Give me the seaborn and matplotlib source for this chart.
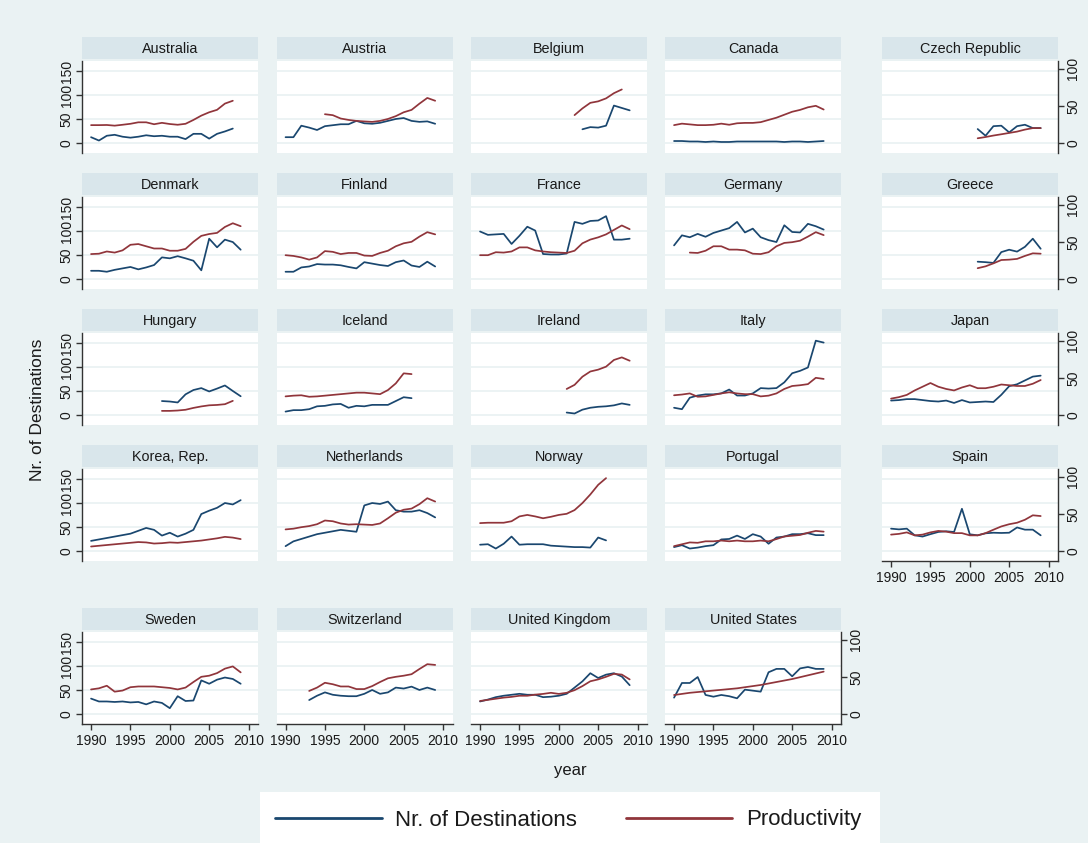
import numpy as np
import pandas as pd
import matplotlib
matplotlib.use("Agg")
import matplotlib.pyplot as plt
from matplotlib.patches import Rectangle
from matplotlib.lines import Line2D
import seaborn as sns

sns.set_style("white")
plt.rcParams["font.family"] = ["Liberation Sans", "DejaVu Sans"]

N = None
years = list(range(1990, 2010))

# Number of export destinations (left axis) and productivity (right axis), 1990-2009
australia_dest = [12, 5, 15, 17, 13, 11, 13, 16, 14, 15, 13, 13, 8, 19, 19, 9, 19, 24, 30, N]
australia_prod = [24, 24, 24.2, 23.3, 24.5, 25.8, 27.8, 27.8, 25.2, 27.1, 25.5, 24.5, 25.8, 31, 36.8, 41.3, 44.6, 53, 56.8, N]
austria_dest = [12, 12, 36, 32, 27, 35, 37, 39, 39, 46, 41, 40, 42, 46, 50, 52, 46, 44, 45, 40]
austria_prod = [N, N, N, N, N, 38.7, 37.4, 32.9, 31, 29.7, 29, 28.4, 29.7, 32.3, 36.1, 41.3, 44.5, 52.9, 60.6, 56.8]
belgium_dest = [N] * 13 + [28.5, 33, 32, 36, 78, 73, 68]
belgium_prod = [N] * 12 + [37.5, 46.5, 54, 56, 60, 67, 72, N]
canada_dest = [4, 4, 3, 3, 2, 3, 2, 2, 3, 3, 3, 3, 3, 3, 2, 3, 3, 2, 3, 4]
canada_prod = [24, 26, 25, 24, 24, 24.5, 26, 24.5, 26.5, 27, 27, 28, 31, 34, 38, 42, 44.5, 48, 50, 45]
czech_dest = [N] * 11 + [29, 15, 35, 36, 22, 35, 38, 31, 31]
czech_prod = [N] * 11 + [6.3, 8, 10, 11.7, 13.5, 15.3, 18, 20, 20]
denmark_dest = [17, 17, 15, 19, 22, 25, 20, 24, 29, 45, 43, 47.5, 43, 38, 18, 84, 66, 82, 77, 61]
denmark_prod = [33.5, 34, 37, 35.5, 38.5, 46, 47, 44, 41, 41, 38, 38, 40.5, 50, 58, 60.5, 62, 70, 75, 71]
finland_dest = [15, 15, 24, 26, 31, 30, 30, 28.5, 25, 22, 35, 32, 29, 27, 35, 38.5, 28, 25, 36, 26]
finland_prod = [32, 31, 29, 26, 29, 37.5, 36.5, 33.5, 35, 35, 31.5, 31, 35, 38, 44, 48, 50, 57, 63, 60]
france_dest = [99, 92, 93, 94, 73, 90, 109, 101, 52, 51, 51, 53, 119, 115, 121, 122, 131, 82, 82, 84]
france_prod = [32, 32, 36, 35.5, 37, 42.5, 42.5, 38.5, 37, 36, 35.5, 35, 38, 48, 53, 56, 60, 66, 72, 67]
germany_dest = [70, 91, 87, 94, 88, 96, 101, 106, 119, 97, 105, 87, 81, 77, 112, 98, 97, 115, 110, 103]
germany_prod = [N, N, 35.5, 35, 38, 44, 44, 39.5, 39.5, 38.5, 34, 33.5, 36, 44, 48.5, 49.5, 51.5, 57, 63, 59]
greece_dest = [N] * 11 + [36, 35, 33.5, 56, 61, 57, 67, 84, 63]
greece_prod = [N] * 11 + [14.5, 17, 21, 25.5, 26, 27, 31, 34.5, 34]
hungary_dest = [N] * 9 + [29, 28, 26, 43, 52, 56, 49, 55, 61.5, 50, 39]
hungary_prod = [N] * 9 + [5.5, 5.5, 6, 7, 9.5, 11.5, 13, 13.5, 14.5, 19, N]
iceland_dest = [7, 10, 10, 12, 18, 19, 22, 23, 15, 19, 18, 21, 21, 21, 29, 37, 35, N, N, N]
iceland_prod = [25, 26, 26.5, 24.5, 25, 26, 27, 28, 29, 30, 30, 29, 28, 33.5, 42.5, 56, 55, N, N, N]
ireland_dest = [N] * 11 + [5, 3, 11, 15, 17, 18, 20, 24, 21]
ireland_prod = [N] * 11 + [35, 40.5, 51.5, 58.5, 61, 65, 74, 77.5, 73]
italy_dest = [15, 12, 36, 40.5, 43, 43, 45, 53, 40.5, 40.5, 45, 56, 55, 56, 68, 87, 92, 99, 155, 151]
italy_prod = [26.5, 27.5, 29, 24.5, 25, 27, 29, 30.5, 29, 28, 28, 25, 26, 29, 35, 39, 40, 41.5, 50, 48.5]
japan_dest = [30, 31, 33, 33, 31, 29, 28, 30, 25, 31, 26, 27, 28, 27, 42, 60, 64, 72, 80, 82]
japan_prod = [22, 24, 27, 33, 38, 43, 38, 35, 33, 37, 40, 36, 36, 38, 41, 40, 39, 39, 42, 47]
korea_dest = [21, 24, 27, 30, 33, 36, 42, 48, 44, 32, 38, 30, 36, 44, 77, 84, 90, 100, 97, 106]
korea_prod = [6, 7, 8, 9, 10, 11, 12, 11.5, 10, 10.5, 11.5, 11, 12, 13, 14, 15.5, 17, 19, 18, 16]
netherlands_dest = [10, 20, 25, 30, 35, 38, 41, 44, 42, 40, 95, 100, 98, 103, 85, 82, 82, 85, 79, 70]
netherlands_prod = [29, 30, 32, 33.5, 36, 41, 40, 37, 35.5, 36, 35.5, 35, 37, 44, 51.5, 55.5, 57, 63, 71, 66.5]
norway_dest = [13, 14, 5, 15, 30, 13, 14, 14, 14, 11, 10, 9, 8, 8, 7, 28, 22, N, N, N]
norway_prod = [37.5, 38, 38, 38, 40, 46.5, 48.5, 46.5, 44, 46, 48.5, 50, 55, 64.5, 76, 89, 98, N, N, N]
portugal_dest = [8, 12, 5, 7, 10, 12, 24, 25, 32, 25, 35, 30, 15, 28, 30, 35, 35, 37, 33, 33]
portugal_prod = [6.5, 9, 11.5, 11, 13, 13, 14, 13, 14, 13, 13, 14, 13, 16, 19.5, 20.5, 21.5, 24.5, 27, 26]
spain_dest = [46.5, 45, 46.5, 32.6, 30, 35, 39.6, 41, 39.6, 88, 34.7, 32.6, 36.8, 38, 37.5, 38, 49, 44.4, 44.4, 32.6]
spain_prod = [22, 23, 25, 21, 22, 25, 27, 26, 24, 24, 21, 21, 24, 28.6, 33, 36, 38, 42, 48, 47]
sweden_dest = [32, 26, 26, 25, 26, 24, 25, 20, 26, 23, 12, 37, 27, 28, 70, 63, 71.5, 76, 73, 63]
sweden_prod = [33, 34.5, 38, 30, 31.5, 36, 37, 37, 37, 36, 35, 33, 35.5, 43, 50, 51.5, 55, 61, 64, 56]
switzerland_dest = [N, N, N, 29, 38, 45, 40, 38, 37, 37, 42, 50, 42, 45, 55, 53, 57, 50, 55, 50]
switzerland_prod = [N, N, N, 31, 35.5, 42, 40, 37, 37, 33.5, 33.5, 37.5, 43, 48, 50, 51.5, 53.5, 60.5, 67, 66]
uk_dest = [26, 30, 35, 38, 40, 42, 40, 40, 35, 36, 38, 42, 55, 68, 85, 75, 82, 85, 78, 60]
uk_prod = [17.5, 19, 20.5, 22, 23, 24.5, 24.5, 26, 27, 28.5, 27, 28.5, 32, 37.5, 44, 46.5, 50, 54, 53, 46.5]
us_dest = [34, 64.6, 64.6, 77, 39.6, 36, 39.6, 37, 32.6, 50.7, 48.6, 46.5, 87, 94, 94, 78.5, 95, 98, 94, 94]
us_prod = [25.5, 27, 28.5, 29.5, 30.5, 31.5, 32.5, 33.5, 34.5, 36, 37.5, 39, 41, 43, 45, 47, 49.5, 52, 54.5, 57]

countries = ["Australia", "Austria", "Belgium", "Canada", "Czech Republic",
             "Denmark", "Finland", "France", "Germany", "Greece",
             "Hungary", "Iceland", "Ireland", "Italy", "Japan",
             "Korea, Rep.", "Netherlands", "Norway", "Portugal", "Spain",
             "Sweden", "Switzerland", "United Kingdom", "United States"]
series = [
    (australia_dest, australia_prod), (austria_dest, austria_prod), (belgium_dest, belgium_prod),
    (canada_dest, canada_prod), (czech_dest, czech_prod),
    (denmark_dest, denmark_prod), (finland_dest, finland_prod), (france_dest, france_prod),
    (germany_dest, germany_prod), (greece_dest, greece_prod),
    (hungary_dest, hungary_prod), (iceland_dest, iceland_prod), (ireland_dest, ireland_prod),
    (italy_dest, italy_prod), (japan_dest, japan_prod),
    (korea_dest, korea_prod), (netherlands_dest, netherlands_prod), (norway_dest, norway_prod),
    (portugal_dest, portugal_prod), (spain_dest, spain_prod),
    (sweden_dest, sweden_prod), (switzerland_dest, switzerland_prod), (uk_dest, uk_prod),
    (us_dest, us_prod),
]

BG = "#eaf2f3"
STRIP = "#d9e6eb"
GRID = "#eaf2f3"
BLUE = "#1a476f"
RED = "#90353b"
INK = "#1a1a1a"

W, H = 1088, 843
fig = plt.figure(figsize=(W / 100, H / 100), dpi=100, facecolor=BG)


def fbox(left, top, width, height):
    return [left / W, 1 - (top + height) / H, width / W, height / H]


col_left = [82, 276.5, 471, 665, 882]
row_top = [61, 197, 333, 469, 632]
PW, PH = 176, 92

for idx, (name, (dest, prod)) in enumerate(zip(countries, series)):
    r, c = divmod(idx, 5)
    left, top = col_left[c], row_top[r]
    show_left = c == 0
    show_right = c == 4 or name == "United States"
    show_bottom = r == 4 or name == "Spain"

    # panel title strip
    st = fig.add_axes(fbox(left, top - 24, PW, 22))
    st.set_facecolor(STRIP)
    st.set_xticks([]); st.set_yticks([])
    for sp in st.spines.values():
        sp.set_visible(False)
    st.text(0.5, 0.45, name, ha="center", va="center", fontsize=10.4,
            color=INK, transform=st.transAxes)

    ax = fig.add_axes(fbox(left, top, PW, PH))
    ax.set_facecolor("white")
    ax.set_xlim(1988.85, 2011.2)
    ax.set_ylim(-21, 171)
    for g in [0, 50, 100, 150]:
        ax.axhline(g, color=GRID, lw=1.3, zorder=0)

    df = pd.DataFrame({"year": years, "dest": dest, "prod": prod}, dtype=float)
    sns.lineplot(data=df, x="year", y="dest", ax=ax, color=BLUE, lw=1.25,
                 legend=False, zorder=3)
    ax2 = ax.twinx()
    ax2.set_ylim(-13.5, 110.3)
    sns.lineplot(data=df, x="year", y="prod", ax=ax2, color=RED, lw=1.25,
                 legend=False, zorder=3)

    for a in (ax, ax2):
        a.set_xlabel("")
        a.set_ylabel("")
        for sp in a.spines.values():
            sp.set_visible(False)
            sp.set_color("#333333")
            sp.set_linewidth(1.0)

    ax.set_yticks([0, 50, 100, 150])
    ax2.set_yticks([0, 50, 100])
    ax.set_xticks([1990, 1995, 2000, 2005, 2010])

    ax.tick_params(axis="y", which="both", left=show_left, labelleft=show_left,
                   right=False, labelright=False, length=4, width=1,
                   color="#333333", labelsize=10, labelcolor=INK,
                   labelrotation=90, pad=2)
    ax2.tick_params(axis="y", which="both", right=show_right, labelright=show_right,
                    left=False, labelleft=False, length=4, width=1,
                    color="#333333", labelsize=10, labelcolor=INK,
                    labelrotation=90, pad=2)
    ax.tick_params(axis="x", bottom=show_bottom, labelbottom=show_bottom,
                   top=False, length=4, width=1, color="#333333",
                   labelsize=10, labelcolor=INK, pad=3)
    ax2.tick_params(axis="x", bottom=False, labelbottom=False, top=False)
    for lab in ax.get_yticklabels():
        lab.set_va("center")
    for lab in ax2.get_yticklabels():
        lab.set_va("center")

    if show_left:
        ax.spines["left"].set_visible(True)
    if show_bottom:
        ax.spines["bottom"].set_visible(True)
    if show_right:
        ax2.spines["right"].set_visible(True)

fig.text(38 / W, 1 - 410 / H, "Nr. of Destinations", rotation=90,
         ha="center", va="center", fontsize=12.5, color=INK)
fig.text(570 / W, 1 - 770 / H, "year", ha="center", va="center",
         fontsize=12, color=INK)

# legend box
fig.patches.append(Rectangle((260 / W, 0), 620 / W, 1 - 792 / H,
                             transform=fig.transFigure, facecolor="white",
                             edgecolor="none", zorder=0))
handles = [Line2D([], [], color=BLUE, lw=2), Line2D([], [], color=RED, lw=2)]
fig.legend(handles, ["Nr. of Destinations", "Productivity"],
           loc="center", bbox_to_anchor=(568 / W, 1 - 820 / H), ncol=2,
           frameon=False, fontsize=16, handlelength=4.8, handletextpad=0.6,
           columnspacing=2.2, labelcolor=INK)

fig.savefig("out.png", dpi=100, facecolor=BG)
